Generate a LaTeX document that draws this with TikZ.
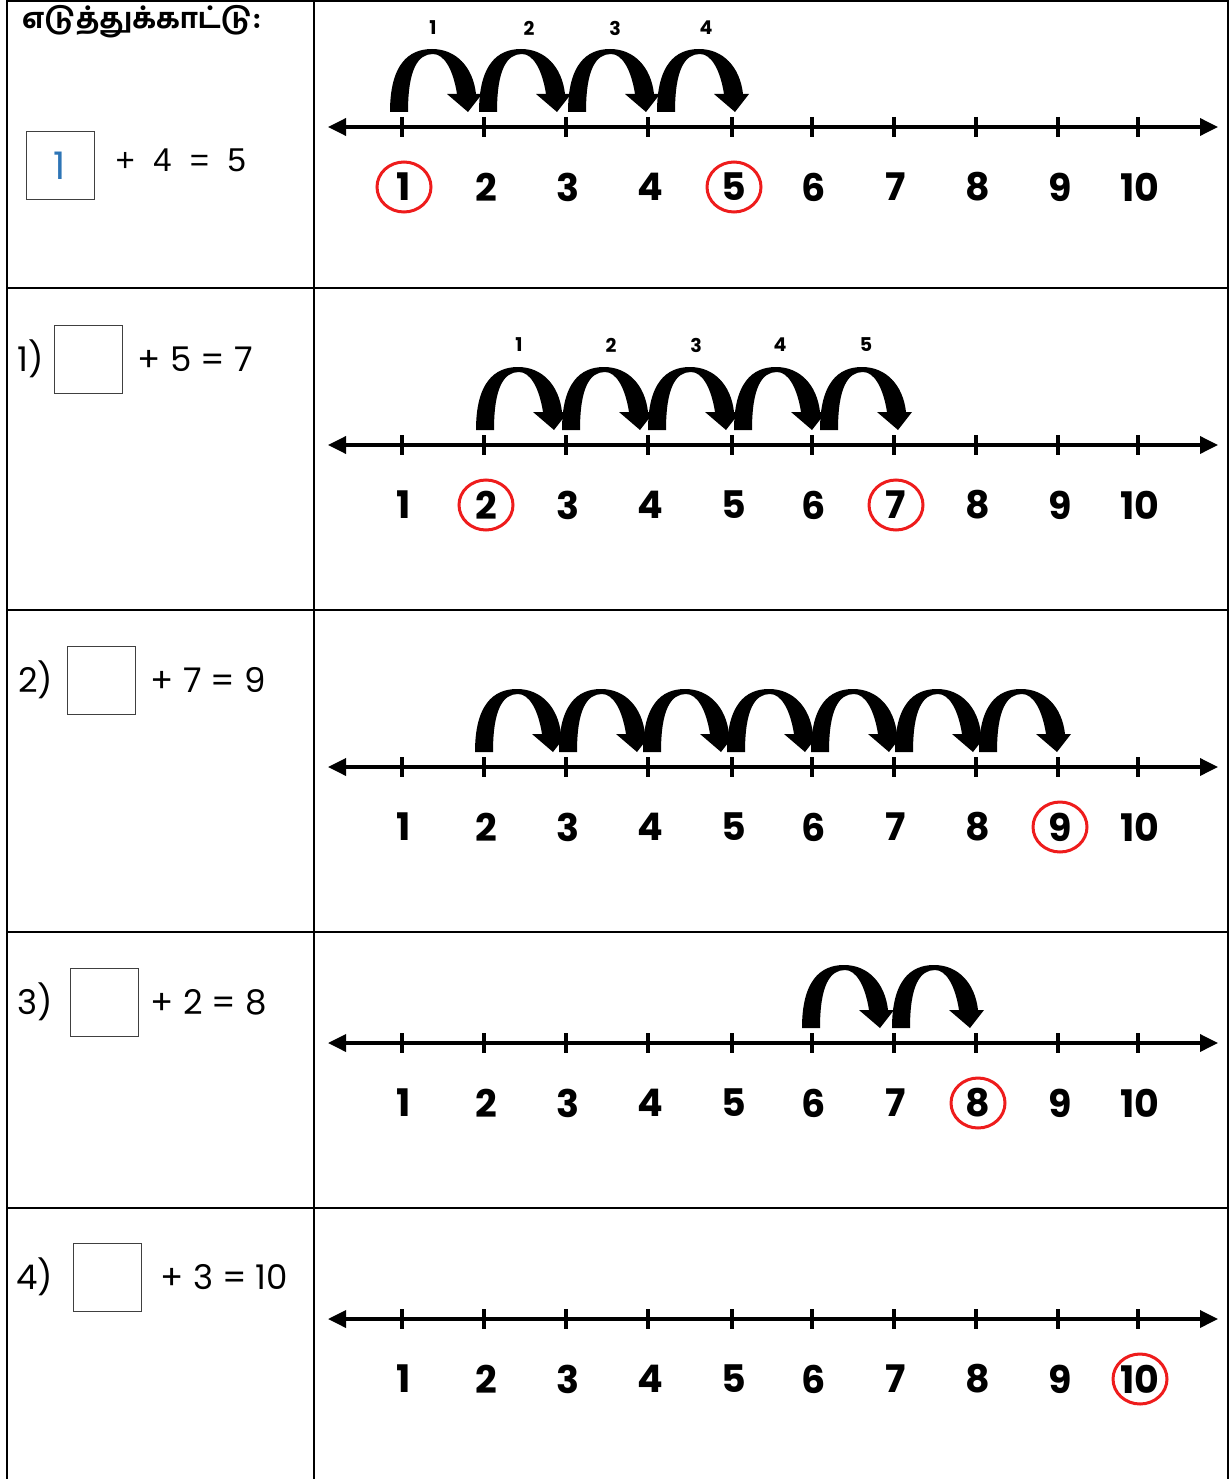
\documentclass[tikz,border=0pt]{standalone}
\usepackage{fontspec}
\setmainfont{Poppins}
\newfontfamily\tamilfont[Script=Tamil,BoldFont={* Bold}]{Hind Madurai}
\newfontfamily\arialfont{Liberation Sans}
\usepackage{tikz}
\usetikzlibrary{arrows.meta,positioning}
\definecolor{ringred}{HTML}{EE1C1C}
\definecolor{answerblue}{HTML}{2E75B6}

% number line: #1 row id, #2 y of the line
\newcommand{\numline}[2]{%
  \draw[nline] (328,#2) -- (1218,#2);
  \foreach \tx [count=\n] in {402,484,566,648,732,812,894,976,1058,1138}{%
    \draw[tick] (\tx,#2-10) -- (\tx,#2+10);
    \node[numlab] (n#1-\n) at (\tx+2,#2+60) {\n};
  }%
}
% one jump, left edge of its foot at x=#1, on the line at y=#2
\newcommand{\jump}[2]{%
  \fill[shift={(#1,#2)}] (0,-15) .. controls (0,-62) and (18,-78) .. (42,-78)
    .. controls (66,-78) and (83,-60) .. (86,-33) -- (92,-33) -- (78,-15) -- (57,-33) -- (67,-33)
    .. controls (63,-58) and (54,-73) .. (43,-73)
    .. controls (28,-73) and (18,-58) .. (18,-15) -- cycle;
}

\begin{document}
\begin{tikzpicture}[
  x=1pt,y=-1pt,
  grid/.style={line width=2pt},
  nline/.style={line width=3.5pt,{Triangle[length=18pt,width=17pt]}-{Triangle[length=18pt,width=17pt]}},
  tick/.style={line width=3.5pt},
  numlab/.style={inner sep=0pt,font=\fontsize{38}{40}\selectfont\bfseries},
  steplab/.style={inner sep=0pt,font=\fontsize{19}{20}\selectfont\bfseries},
  ring/.style={draw=ringred,line width=3pt},
  ansbox/.style={draw=black!75,line width=1pt,minimum size=68pt,inner sep=0pt},
  eqn/.style={inner sep=0pt,font=\fontsize{34}{36}\selectfont}
]
\useasboundingbox (0,0) rectangle (1231,1479);

% table
\draw[grid] (7,0) -- (7,1479) (314,0) -- (314,1479) (1228,0) -- (1228,1479);
\draw[grid] (7,1) -- (1228,1);
\foreach \ry in {288,610,932,1208}
  \draw[grid] (7,\ry) -- (1228,\ry);

% example
\node[anchor=west,inner sep=0pt,font=\tamilfont\fontsize{28}{30}\selectfont\bfseries] (head) at (22,22) {எடுத்துக்காட்டு:};
\node[ansbox] (box0) at (60,166) {\textcolor{answerblue}{\fontsize{38}{40}\selectfont 1}};
\node[eqn,font=\arialfont\fontsize{33}{36}\selectfont,right=21pt of box0,yshift=6pt] (eq0) {+\ \ 4\ \ =\ \ 5};
\numline{0}{127}
\foreach \k in {0,...,3} \jump{390+89*\k}{127};
\foreach \lx [count=\k] in {433,529,615,706}
  \node[steplab] (s0-\k) at (\lx,28) {\k};
\draw[ring] (n0-1) ellipse [x radius=27pt,y radius=25pt];
\draw[ring] (n0-5) ellipse [x radius=27pt,y radius=25pt];

% 1)
\node[ansbox] (box1) at (88,359) {};
\node[eqn,left=9pt of box1] (lab1) {1)};
\node[eqn,right=15pt of box1] (eq1) {+ 5 = 7};
\numline{1}{445}
\foreach \k in {0,...,4} \jump{476+86*\k}{445};
\foreach \lx [count=\k] in {519,611,696,780,866}
  \node[steplab] (s1-\k) at (\lx,345) {\k};
\draw[ring] (n1-2) ellipse [x radius=27pt,y radius=25pt];
\draw[ring] (n1-7) ellipse [x radius=27pt,y radius=25pt];

% 2)
\node[ansbox] (box2) at (101,680) {};
\node[eqn,left=13pt of box2] (lab2) {2)};
\node[eqn,right=15pt of box2] (eq2) {+ 7 = 9};
\numline{2}{767}
\foreach \k in {0,...,6} \jump{475+84*\k}{767};
\draw[ring] (n2-9) ellipse [x radius=27pt,y radius=25pt];

% 3)
\node[ansbox] (box3) at (104,1002) {};
\node[eqn,left=16pt of box3] (lab3) {3)};
\node[eqn,right=12pt of box3] (eq3) {+ 2 = 8};
\numline{3}{1043}
\foreach \k in {0,1} \jump{802+90*\k}{1043};
\draw[ring] (n3-8) ellipse [x radius=27pt,y radius=25pt];

% 4)
\node[ansbox] (box4) at (107,1277) {};
\node[eqn,left=19pt of box4] (lab4) {4)};
\node[eqn,right=19pt of box4] (eq4) {+ 3 = 10};
\numline{4}{1319}
\draw[ring] (n4-10) ellipse [x radius=27pt,y radius=25pt];
\end{tikzpicture}
\end{document}
